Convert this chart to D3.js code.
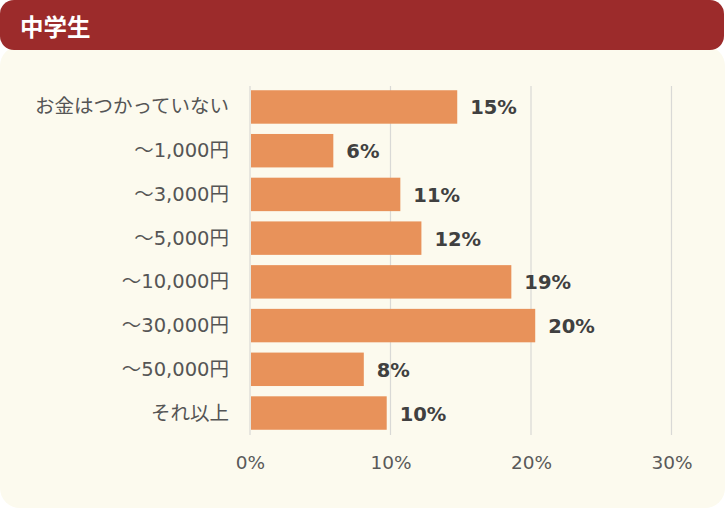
<!DOCTYPE html>
<html>
<head>
<meta charset="utf-8">
<script src="https://cdn.jsdelivr.net/npm/d3@7"></script>
<style>
  html, body { margin: 0; padding: 0; background: #ffffff; }
  svg { display: block; }
</style>
</head>
<body>
<svg id="chart"></svg>
<script>
// data
const title = '中学生';
const categories = ['お金はつかっていない', '～1,000円', '～3,000円', '～5,000円', '～10,000円', '～30,000円', '～50,000円', 'それ以上'];
const values = [14.75, 5.93, 10.7, 12.2, 18.6, 20.3, 8.1, 9.73];
const ticks = [0, 10, 20, 30];

const width = 725, height = 508;
const font = '"DejaVu Sans", "Noto Sans CJK JP", sans-serif';

const svg = d3.select('#chart')
    .attr('width', width)
    .attr('height', height);

// cream panel + header
svg.append('rect')
    .attr('x', 0).attr('y', 46)
    .attr('width', width).attr('height', height - 46)
    .attr('rx', 20)
    .attr('fill', '#fcfaee');

svg.append('rect')
    .attr('x', 0).attr('y', 0)
    .attr('width', width - 1).attr('height', 50)
    .attr('rx', 14)
    .attr('fill', '#9c2b2b');

svg.append('text')
    .attr('x', 20).attr('y', 26)
    .attr('dominant-baseline', 'central')
    .attr('fill', '#ffffff')
    .style('font-family', '"Noto Sans CJK JP", sans-serif')
    .style('font-weight', 'bold')
    .style('font-size', '23.5px')
    .text(title);

const x = d3.scaleLinear()
    .domain([0, 30])
    .range([250, 671.5]);

const y = d3.scaleBand()
    .domain(categories)
    .range([85, 435])
    .paddingInner(0.235)
    .paddingOuter(0.12);

const chart = svg.append('g');

// grid lines
chart.selectAll('.grid')
    .data(ticks)
    .enter()
    .append('line')
    .attr('x1', d => x(d)).attr('x2', d => x(d))
    .attr('y1', 86).attr('y2', 435)
    .attr('stroke', '#d9d9d6')
    .attr('stroke-width', 1.2);

// bars
chart.selectAll('.bar')
    .data(values)
    .enter()
    .append('rect')
    .attr('x', x(0) + 1)
    .attr('y', (d, i) => y(categories[i]))
    .attr('width', d => x(d) - x(0) - 1)
    .attr('height', y.bandwidth())
    .attr('fill', '#e8925a');

// value labels
chart.selectAll('.val')
    .data(values)
    .enter()
    .append('text')
    .attr('x', d => x(d) + 13)
    .attr('y', (d, i) => y(categories[i]) + y.bandwidth() / 2 + 1)
    .attr('dominant-baseline', 'central')
    .attr('fill', '#404040')
    .style('font-family', font)
    .style('font-weight', 'bold')
    .style('font-size', '19.5px')
    .text(d => Math.round(d) + '%');

// category labels
chart.selectAll('.cat')
    .data(categories)
    .enter()
    .append('text')
    .attr('x', 229)
    .attr('y', d => y(d) + y.bandwidth() / 2)
    .attr('text-anchor', 'end')
    .attr('dominant-baseline', 'central')
    .attr('fill', '#555555')
    .style('font-family', font)
    .style('font-size', '19.5px')
    .text(d => d);

// x axis labels
const xAxis = svg.append('g')
    .attr('transform', 'translate(0,453)')
    .call(d3.axisBottom(x).tickValues(ticks).tickFormat(d => d + '%').tickSize(0));
xAxis.select('.domain').remove();
xAxis.selectAll('text')
    .attr('fill', '#595959')
    .style('font-family', font)
    .style('font-size', '18.5px');
</script>
</body>
</html>
